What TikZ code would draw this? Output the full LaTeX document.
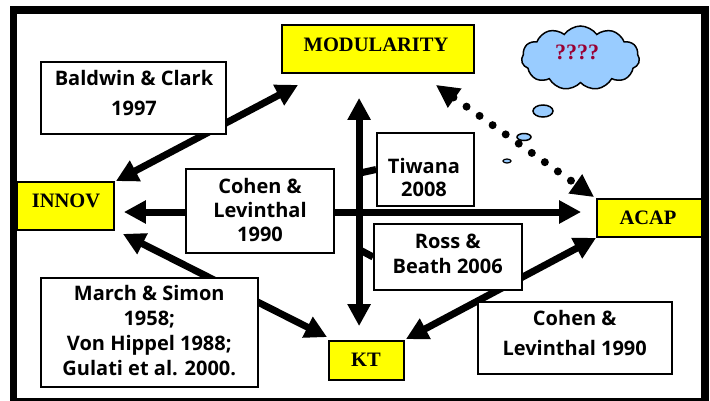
\documentclass[tikz,border=0pt]{standalone}
\usepackage{fontspec}
\setmainfont{Liberation Serif}
\newfontfamily\gill{Open Sans}
\usetikzlibrary{arrows.meta,shapes.symbols,shapes.geometric,calc}
\definecolor{ybox}{HTML}{FFFF00}
\definecolor{cloudblue}{HTML}{99CCFF}
\definecolor{qred}{HTML}{990033}
\pgfdeclarelayer{bg}
\pgfsetlayers{bg,main}
\begin{document}
\begin{tikzpicture}[x=1pt,y=-1pt,
 keybox/.style={draw=black, line width=1.8pt, fill=ybox, inner sep=0pt},
 keytext/.style={font=\fontsize{20.5}{24}\selectfont\bfseries, inner sep=0pt},
 refbox/.style={draw=black, line width=1.8pt, fill=white, inner sep=0pt},
 reftext/.style={font=\gill\bfseries\fontsize{20}{#1}\selectfont, align=center, inner sep=0pt},
 reftext/.default=25,
 big/.style={line width=7pt, {Triangle[length=22pt,width=22pt]}-{Triangle[length=22pt,width=22pt]}},
 dotted arrow/.style={line width=8pt, line cap=round, dash pattern=on 0pt off 16pt, {Triangle[length=23pt,width=22pt]}-{Triangle[length=23pt,width=22pt]}},
 bubble/.style={draw=black, line width=1.5pt, fill=cloudblue, ellipse, inner sep=0pt},
 tick/.style={line width=7pt}
]
\clip (0,0) rectangle (710,400);
\useasboundingbox (0,0) rectangle (710,400);

% key concept boxes
\node[keybox, minimum width=192pt, minimum height=48pt] (mod) at (378,49) {};
\node[keytext] (modt) at (376,45) {MODULARITY};
\node[keybox, minimum width=97pt, minimum height=48pt] (innov) at (65.5,206) {};
\node[keytext] (innovt) at (66,201) {INNOV};
\node[keybox, minimum width=105pt, minimum height=38pt] (acap) at (649.5,218) {};
\node[keytext] (acapt) at (648,218) {ACAP};
\node[keybox, minimum width=75pt, minimum height=39pt] (kt) at (366.5,360.5) {};
\node[keytext] (ktt) at (366,360) {KT};

% reference boxes
\node[refbox, minimum width=185pt, minimum height=72pt] (bc) at (133.5,98) {};
\node[reftext=30] (bct) at (134,93) {Baldwin \& Clark\\1997};
\node[refbox, minimum width=148pt, minimum height=84pt] (cl1) at (260,211) {};
\node[reftext=24] (cl1t) at (260,210) {Cohen \&\\Levinthal\\1990};
\node[refbox, minimum width=97pt, minimum height=73pt] (tw) at (425.5,169.5) {};
\node[reftext=23] (twt) at (424,177.5) {Tiwana\\2008};
\node[refbox, minimum width=148pt, minimum height=66pt] (rb) at (448,257) {};
\node[reftext=25] (rbt) at (447.7,253.5) {Ross \&\\Beath 2006};
\node[refbox, minimum width=217pt, minimum height=109pt] (ms) at (149.5,332.5) {};
\node[reftext=25] (mst) at (149.3,331) {March \& Simon\\1958;\\Von Hippel 1988;\\Gulati et al. 2000.};
\node[refbox, minimum width=194pt, minimum height=72pt] (cl2) at (575,338) {};
\node[reftext=30] (cl2t) at (574.7,333) {Cohen \&\\Levinthal 1990};

% cloud
\node[cloud, cloud puffs=11, cloud puff arc=110, aspect=1.8, draw=black, line width=1.5pt, fill=cloudblue, minimum width=118pt, minimum height=64pt, inner sep=0pt] (cloud) at (580.5,58) {};
\node[font=\fontsize{22}{24}\selectfont\bfseries, text=qred, inner sep=0pt] (cloudt) at (577,52) {????};
\node[bubble, minimum width=20pt, minimum height=12pt] (b1) at (543,111) {};
\node[bubble, minimum width=14pt, minimum height=7pt] (b2) at (524,137) {};
\node[bubble, minimum width=8pt, minimum height=4pt, line width=1.2pt] (b3) at (507,161) {};

% anchor points for connectors
\coordinate (m1) at ($(mod.south west)+(17,11)$);
\coordinate (m2) at ($(mod.south west)+(78,24)$);
\coordinate (m3) at ($(mod.south east)+(-39,11)$);
\coordinate (i1) at ($(innov.north east)+(1,0)$);
\coordinate (i2) at ($(innov.east)+(9,6)$);
\coordinate (i3) at ($(innov.south east)+(8,3)$);
\coordinate (a1) at ($(acap.west)+(-15,-6)$);
\coordinate (a2) at ($(acap.south west)+(0,0)$);
\coordinate (a3) at ($(acap.north west)+(-2,-1)$);
\coordinate (k1) at ($(kt.north west)+(31,-14)$);
\coordinate (k2) at ($(kt.north west)+(-1,-3)$);
\coordinate (k3) at ($(kt.north east)+(1,-1)$);
\coordinate (v1) at (360,173);
\coordinate (v2) at (360,250);

\begin{pgfonlayer}{bg}
\draw[line width=7.5pt] (13.5,10) rectangle (705,402);
\draw[big] (i1) -- (m1);
\draw[big] (i2) -- (a1);
\draw[big] (m2) -- (k1);
\draw[tick] (v1) -- (tw.west);
\draw[tick] (v2) -- (rb.west);
\draw[big] (i3) -- (k2);
\draw[big] (k3) -- (a2);
\draw[dotted arrow] (m3) -- (a3);
\end{pgfonlayer}
\end{tikzpicture}
\end{document}
